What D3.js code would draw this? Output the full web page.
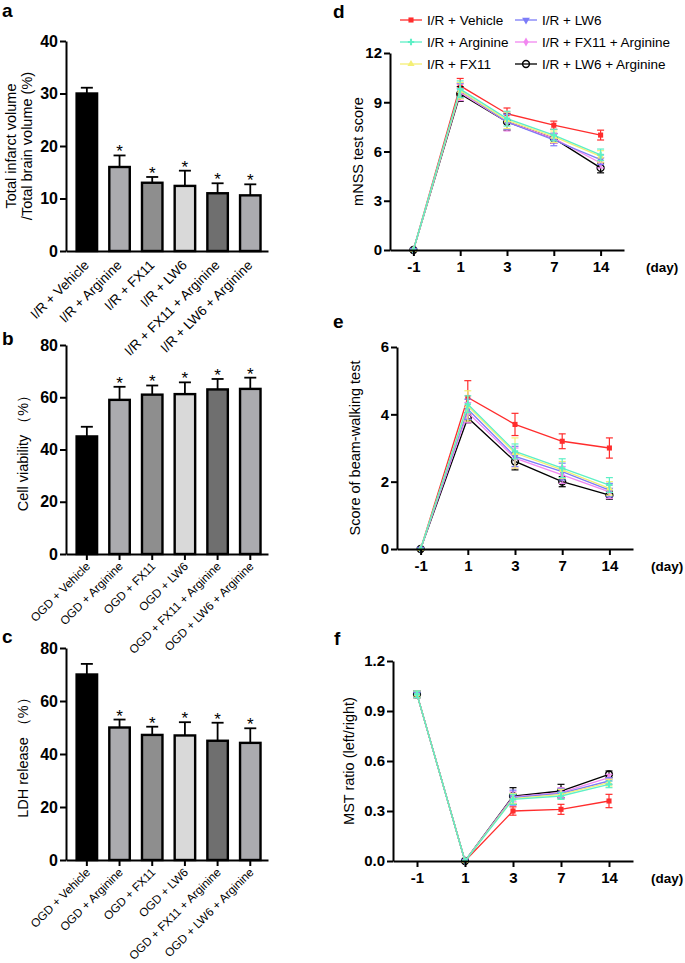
<!DOCTYPE html>
<html><head><meta charset="utf-8">
<script src="https://cdn.jsdelivr.net/npm/d3@7"></script>
<style>
body{margin:0;background:#fff;}
text{font-family:Arial,'Liberation Sans',Helvetica,sans-serif;fill:#000;}
</style>
</head><body>
<svg id="chart" width="685" height="963"></svg>
<script>
// ---------- DATA ----------
const irGroups = ["I/R + Vehicle","I/R + Arginine","I/R + FX11","I/R + LW6","I/R + FX11 + Arginine","I/R + LW6 + Arginine"];
const ogdGroups = ["OGD + Vehicle","OGD + Arginine","OGD + FX11","OGD + LW6","OGD + FX11 + Arginine","OGD + LW6 + Arginine"];
const barFills = ["#000000","#ababaf","#8e8e8e","#d9d9d9","#6f6f6f","#ababaf"];
const barSig = [false,true,true,true,true,true];

const infarctMean = [30,16,13,12.4,11,10.6];
const infarctSD   = [1.1,2.2,1.1,2.9,1.9,2.1];
const infarctTicks = [0,10,20,30,40];

const viabilityMean = [45,59,61,61.2,63,63.2];
const viabilitySD   = [3.7,5,3.5,4.5,4,4.3];
const ldhMean = [70,50,47.2,47,45,44.2];
const ldhSD   = [4,3,3.1,5,6.8,5.5];
const pctTicks = [0,20,40,60,80];

const days = ["-1","1","3","7","14"];
const seriesNames = ["I/R + Vehicle","I/R + Arginine","I/R + FX11","I/R + LW6","I/R + FX11 + Arginine","I/R + LW6 + Arginine"];
const seriesColors = ["#ff2d2d","#5ef0c6","#f4ef74","#7c7cf8","#f287f0","#000000"];
const seriesMarkers = ["square","cross","triangle","triangleDown","diamond","circle"];

// mNSS score (d)
const mnssMean = [
  [0,10.0,8.3,7.6,7.0],
  [0,9.8,8.0,7.0,5.8],
  [0,9.7,7.9,6.9,5.7],
  [0,9.7,7.8,6.7,5.5],
  [0,9.6,7.8,6.8,5.3],
  [0,9.5,7.8,6.8,5.0]];
const mnssSD = [
  [0,0.45,0.35,0.25,0.3],
  [0,0.5,0.45,0.35,0.35],
  [0,0.5,0.5,0.35,0.35],
  [0,0.45,0.45,0.35,0.3],
  [0,0.5,0.55,0.3,0.3],
  [0,0.45,0.5,0.3,0.3]];
const mnssTicks = [0,3,6,9,12];

// beam-walking (e)
const beamMean = [
  [0,4.5,3.7,3.2,3.0],
  [0,4.3,2.9,2.4,1.9],
  [0,4.25,2.85,2.35,1.8],
  [0,4.15,2.75,2.3,1.75],
  [0,4.05,2.7,2.2,1.7],
  [0,3.9,2.6,2.0,1.6]];
const beamSD = [
  [0,0.5,0.33,0.22,0.3],
  [0,0.25,0.22,0.28,0.22],
  [0,0.45,0.45,0.25,0.2],
  [0,0.3,0.3,0.25,0.2],
  [0,0.3,0.3,0.25,0.2],
  [0,0.15,0.25,0.15,0.12]];
const beamTicks = [0,2,4,6];

// MST ratio (f)
const mstMean = [
  [1.0,0,0.30,0.31,0.36],
  [1.0,0,0.37,0.39,0.46],
  [1.0,0,0.375,0.40,0.47],
  [1.0,0,0.38,0.405,0.48],
  [1.0,0,0.385,0.41,0.50],
  [1.0,0,0.39,0.42,0.52]];
const mstSD = [
  [0.02,0,0.025,0.03,0.04],
  [0.02,0,0.03,0.02,0.02],
  [0.02,0,0.03,0.03,0.02],
  [0.02,0,0.045,0.03,0.02],
  [0.02,0,0.03,0.03,0.02],
  [0.02,0,0.05,0.04,0.02]];
const mstTicks = [0,0.3,0.6,0.9,1.2];

// ---------- DRAW ----------
const svg = d3.select("#chart");
svg.append("rect").attr("width",685).attr("height",963).attr("fill","#fff");

function panelLetter(t,x,y){
  svg.append("text").attr("x",x).attr("y",y).attr("font-size",19).attr("font-weight","bold").text(t);
}

function styleAxis(g,fs){
  g.selectAll(".domain").attr("stroke","#000").attr("stroke-width",2);
  g.selectAll(".tick line").attr("stroke","#000").attr("stroke-width",2);
  g.selectAll(".tick text").attr("font-size",fs).attr("font-weight","bold")
    .attr("font-family","Arial,'Liberation Sans',sans-serif").attr("fill","#000");
}

function barChart(o){
  const g = svg.append("g");
  const x = d3.scaleBand().domain(o.cats).range([66,268]).paddingInner(0.3).paddingOuter(0.24).align(0.6);
  const y = d3.scaleLinear().domain([0,o.max]).range([o.y0,o.y1]);
  g.selectAll("rect.bar").data(o.mean).join("rect")
    .attr("x",(d,i)=>x(o.cats[i])+1.2)
    .attr("width",x.bandwidth()-2.4)
    .attr("y",d=>y(d))
    .attr("height",d=>y(0)-y(d))
    .attr("fill",(d,i)=>barFills[i])
    .attr("stroke","#000").attr("stroke-width",2.4);
  o.mean.forEach((m,i)=>{
    const cx = x(o.cats[i])+x.bandwidth()/2;
    const top = y(m+o.sd[i]);
    g.append("line").attr("x1",cx).attr("x2",cx).attr("y1",y(m)).attr("y2",top).attr("stroke","#000").attr("stroke-width",1.8);
    g.append("line").attr("x1",cx-6).attr("x2",cx+6).attr("y1",top).attr("y2",top).attr("stroke","#000").attr("stroke-width",1.8);
    if(barSig[i]) g.append("text").attr("x",cx).attr("y",top+2).attr("text-anchor","middle").attr("font-size",17).text("*");
  });
  const ya = g.append("g").attr("transform","translate(66,0)")
    .call(d3.axisLeft(y).tickValues(o.ticks).tickSize(6).tickSizeOuter(0).tickPadding(2));
  styleAxis(ya,16);
  const xa = g.append("g").attr("transform",`translate(0,${o.y0})`)
    .call(d3.axisBottom(x).tickSize(o.xTick).tickSizeOuter(0));
  styleAxis(xa,o.labelSize);
  xa.selectAll(".tick text").attr("font-weight","normal").attr("text-anchor","end")
    .attr("x",0).attr("y",0).attr("dy",0)
    .attr("transform",`translate(${o.labelOff[0]},${o.labelOff[1]}) rotate(-45)`);
  o.title.forEach((t,k)=>{
    g.append("text").attr("transform",`translate(${o.titleX[k]},${(o.y0+o.y1)/2}) rotate(-90)`)
      .attr("text-anchor","middle").attr("font-size",14.5).text(t);
  });
}

function symbolFor(kind){
  switch(kind){
    case "square": return d3.symbol(d3.symbolSquare,26);
    case "cross": return d3.symbol(d3.symbolCross,22);
    case "triangle": return d3.symbol(d3.symbolTriangle,22);
    case "triangleDown": return d3.symbol(d3.symbolTriangle,26);
    case "diamond": return d3.symbol(d3.symbolDiamond,24);
    default: return d3.symbol(d3.symbolCircle,36);
  }
}
function drawMarker(g,kind,color,cx,cy){
  const p = g.append("path").attr("d",symbolFor(kind)()).attr("transform",`translate(${cx},${cy})${kind==="triangleDown"?" rotate(180)":""}`);
  if(kind==="circle") p.attr("fill","none").attr("stroke",color).attr("stroke-width",1.5);
  else p.attr("fill",color);
}

function lineChart(o){
  const g = svg.append("g");
  const x = d3.scalePoint().domain(days).range([o.x0,o.x1]).padding(0.5);
  const y = d3.scaleLinear().domain([0,o.max]).range([o.y0,o.y1]);
  const order = [0,5,4,3,2,1];
  order.forEach(s=>{
    const col = seriesColors[s];
    const pts = days.map((d,i)=>[x(d),y(o.mean[s][i])]);
    g.append("path").attr("d",d3.line()(pts)).attr("fill","none").attr("stroke",col).attr("stroke-width",1.3);
    days.forEach((d,i)=>{
      const e = o.sd[s][i];
      if(e>0){
        const cx=x(d), a=y(o.mean[s][i]-e), b=y(o.mean[s][i]+e);
        g.append("line").attr("x1",cx).attr("x2",cx).attr("y1",a).attr("y2",b).attr("stroke",col).attr("stroke-width",1.2);
        [a,b].forEach(v=>g.append("line").attr("x1",cx-3.5).attr("x2",cx+3.5).attr("y1",v).attr("y2",v).attr("stroke",col).attr("stroke-width",1.2));
      }
      drawMarker(g,seriesMarkers[s],col,x(d),y(o.mean[s][i]));
    });
  });
  const ya = g.append("g").attr("transform",`translate(${o.x0},0)`)
    .call(d3.axisLeft(y).tickValues(o.ticks).tickFormat(o.fmt).tickSize(6).tickSizeOuter(0).tickPadding(2));
  styleAxis(ya,15);
  const xa = g.append("g").attr("transform",`translate(0,${o.y0})`)
    .call(d3.axisBottom(x).tickSize(6).tickSizeOuter(0).tickPadding(5));
  styleAxis(xa,15);
  g.append("text").attr("x",o.dayX).attr("y",o.y0+22).attr("font-size",13.5).attr("font-weight","bold").text("(day)");
  g.append("text").attr("transform",`translate(${o.titleX},${(o.y0+o.y1)/2}) rotate(-90)`)
    .attr("text-anchor","middle").attr("font-size",14.5).text(o.title);
}

// panels a-c
panelLetter("a",2,17);
barChart({cats:irGroups,mean:infarctMean,sd:infarctSD,max:40,ticks:infarctTicks,y0:251,y1:41,
  xTick:0,labelSize:13.5,labelOff:[3,15],
  title:["Total infarct volume","/Total brain volume (%)"],titleX:[16,32]});
panelLetter("b",2,345);
barChart({cats:ogdGroups,mean:viabilityMean,sd:viabilitySD,max:80,ticks:pctTicks,y0:554,y1:345,
  xTick:6,labelSize:11.8,labelOff:[4,13],
  title:["Cell viability （%）"],titleX:[28]});
panelLetter("c",2,643);
barChart({cats:ogdGroups,mean:ldhMean,sd:ldhSD,max:80,ticks:pctTicks,y0:860,y1:648,
  xTick:6,labelSize:11.8,labelOff:[4,13],
  title:["LDH release （%）"],titleX:[28]});

// panels d-f
panelLetter("d",333,18);
lineChart({mean:mnssMean,sd:mnssSD,max:12,ticks:mnssTicks,fmt:d3.format("d"),x0:390,x1:624,y0:250,y1:53,
  dayX:646,titleX:363,title:"mNSS test score"});
panelLetter("e",333,328);
lineChart({mean:beamMean,sd:beamSD,max:6,ticks:beamTicks,fmt:d3.format("d"),x0:397,x1:633,y0:549,y1:347,
  dayX:651,titleX:360,title:"Score of beam-walking test"});
panelLetter("f",334,645);
lineChart({mean:mstMean,sd:mstSD,max:1.2,ticks:mstTicks,fmt:d3.format(".1f"),x0:393,x1:633,y0:861,y1:661,
  dayX:651,titleX:354,title:"MST ratio (left/right)"});

// legend
const lg = svg.append("g");
seriesNames.forEach((n,i)=>{
  const col = Math.floor(i/3), row = i%3;
  const lx = col===0?400:515, ly = 20+row*22;
  lg.append("line").attr("x1",lx).attr("x2",lx+22).attr("y1",ly).attr("y2",ly).attr("stroke",seriesColors[i]).attr("stroke-width",1.3);
  drawMarker(lg,seriesMarkers[i],seriesColors[i],lx+11,ly);
  lg.append("text").attr("x",lx+27).attr("y",ly+5).attr("font-size",13.5).text(n);
});
</script>
</body></html>
